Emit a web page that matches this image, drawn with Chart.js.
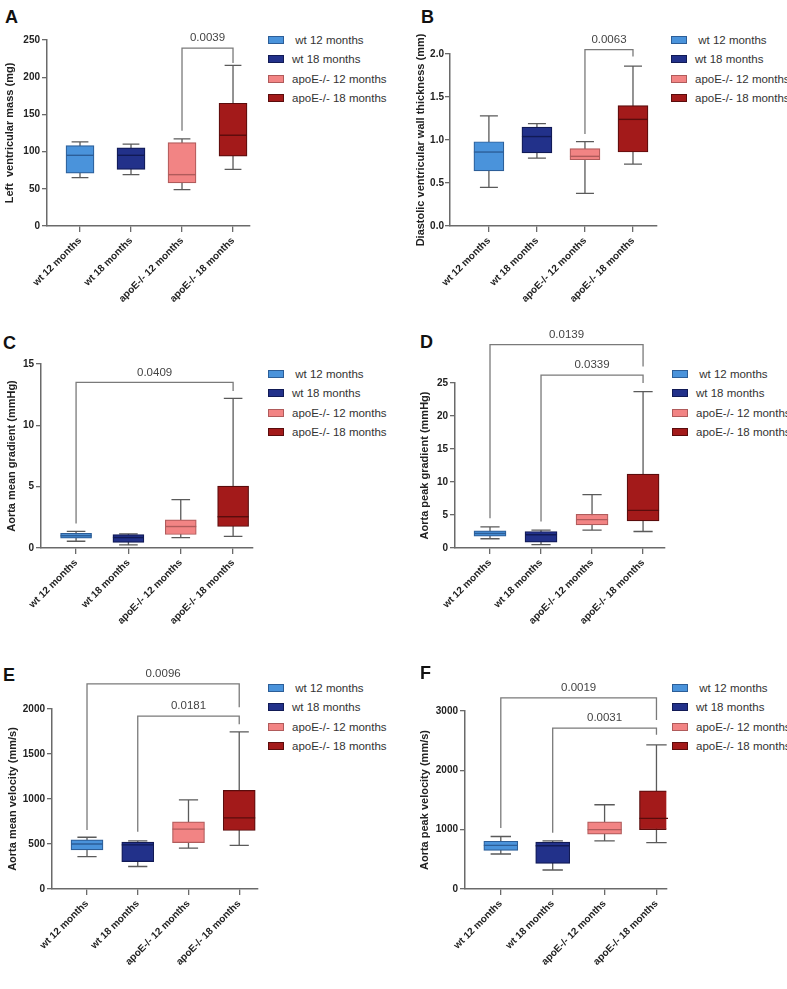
<!DOCTYPE html>
<html>
<head>
<meta charset="utf-8">
<script src="https://cdn.jsdelivr.net/npm/chart.js@4.4.1/dist/chart.umd.min.js"></script>
<style>
  body { margin: 0; background: #fff; width: 787px; height: 989px; position: relative; overflow: hidden;
         font-family: "Liberation Sans", Arial, sans-serif; }
  canvas { position: absolute; }
  .letter { position: absolute; font-weight: bold; font-size: 18px; color: #111; line-height: 1; }
  .legend { position: absolute; font-size: 11.5px; color: #333; }
  .legend .row { position: absolute; left: 0; white-space: pre; height: 14px; line-height: 14px; }
  .legend .sw { display: inline-block; box-sizing: border-box; width: 16px; height: 8px; border: 1px solid;
                vertical-align: middle; margin-right: 8px; position: relative; top: -1px; }
</style>
</head>
<body>
<script>
const categories = ['wt 12 months', 'wt 18 months', 'apoE-/- 12 months', 'apoE-/- 18 months'];
const legendLabels = [' wt 12 months', 'wt 18 months', 'apoE-/- 12 months', 'apoE-/- 18 months'];
const fillColors = ['#4a93db', '#22318a', '#f28484', '#a31a1a'];
const edgeColors = ['#2c5e98', '#111a55', '#b05b5b', '#5a0c0c'];

// A - left ventricular mass
const massMin = [65, 69, 49, 76];
const massQ1 = [71, 76, 58, 94];
const massMedian = [95, 95, 69, 122];
const massQ3 = [108, 105, 112, 165];
const massMax = [113, 110, 117, 216];
const massTicks = [0, 50, 100, 150, 200, 250];
const massBrackets = [{ from: 2, to: 3, left: 128, top: 239, right: 219, p: '0.0039' }];

// B - diastolic wall thickness
const wallMin = [0.45, 0.79, 0.38, 0.72];
const wallQ1 = [0.64, 0.85, 0.77, 0.86];
const wallMedian = [0.86, 1.04, 0.81, 1.24];
const wallQ3 = [0.98, 1.15, 0.90, 1.40];
const wallMax = [1.28, 1.19, 0.98, 1.86];
const wallTicks = [0, 0.5, 1.0, 1.5, 2.0];
const wallBrackets = [{ from: 2, to: 3, left: 1.07, top: 2.05, right: 1.97, p: '0.0063' }];

// C - aorta mean gradient
const meanGradMin = [0.55, 0.25, 0.85, 0.95];
const meanGradQ1 = [0.8, 0.45, 1.1, 1.75];
const meanGradMedian = [1.0, 0.85, 1.75, 2.55];
const meanGradQ3 = [1.2, 1.1, 2.3, 5.05];
const meanGradMax = [1.35, 1.15, 3.95, 12.2];
const meanGradTicks = [0, 5, 10, 15];
const meanGradBrackets = [{ from: 0, to: 3, left: 2.0, top: 13.5, right: 12.8, p: '0.0409' }];

// D - aorta peak gradient
const peakGradMin = [1.4, 0.5, 2.7, 2.5];
const peakGradQ1 = [1.8, 0.9, 3.5, 4.1];
const peakGradMedian = [2.2, 2.0, 4.3, 5.7];
const peakGradQ3 = [2.6, 2.5, 5.1, 11.2];
const peakGradMax = [3.2, 2.7, 8.1, 23.7];
const peakGradTicks = [0, 5, 10, 15, 20, 25];
const peakGradBrackets = [
  { from: 0, to: 3, left: 4.5, top: 30.8, right: 27.5, p: '0.0139' },
  { from: 1, to: 3, left: 4.0, top: 26.2, right: 25.0, p: '0.0339' }
];

// E - aorta mean velocity
const meanVelMin = [360, 250, 455, 485];
const meanVelQ1 = [435, 305, 515, 650];
const meanVelMedian = [500, 490, 665, 790];
const meanVelQ3 = [545, 520, 745, 1095];
const meanVelMax = [575, 535, 990, 1745];
const meanVelTicks = [0, 500, 1000, 1500, 2000];
const meanVelBrackets = [
  { from: 0, to: 3, left: 655, top: 2280, right: 2020, p: '0.0096' },
  { from: 1, to: 3, left: 635, top: 1920, right: 1830, p: '0.0181' }
];

// F - aorta peak velocity
const peakVelMin = [590, 320, 810, 780];
const peakVelQ1 = [650, 430, 925, 1000];
const peakVelMedian = [735, 730, 1000, 1190];
const peakVelQ3 = [805, 790, 1130, 1655];
const peakVelMax = [885, 810, 1420, 2430];
const peakVelTicks = [0, 1000, 2000, 3000];
const peakVelBrackets = [
  { from: 0, to: 3, left: 1030, top: 3220, right: 2850, p: '0.0019' },
  { from: 1, to: 3, left: 950, top: 2710, right: 2600, p: '0.0031' }
];

const panels = [
  { letter: 'A', lx: 5, ly: 8, title: 'Left  ventricular mass (mg)',
    min: massMin, q1: massQ1, med: massMedian, q3: massQ3, max: massMax, ticks: massTicks, brackets: massBrackets, dec: 0,
    cl: 3, ct: 0, cw: 255, ch: 330, axisX: 47, top: 40, bottom: 226, right: 250, xMin: -0.647, xMax: 3.333, bar: 28,
    legX: 268, legY: 40 },
  { letter: 'B', lx: 421, ly: 8, title: 'Diastolic ventricular wall thickness (mm)',
    min: wallMin, q1: wallQ1, med: wallMedian, q3: wallQ3, max: wallMax, ticks: wallTicks, brackets: wallBrackets, dec: 1,
    cl: 414, ct: 0, cw: 251, ch: 330, axisX: 450, top: 54, bottom: 226, right: 657, xMin: -0.81, xMax: 3.5, bar: 30,
    legX: 671, legY: 40, tickPad: 1 },
  { letter: 'C', lx: 3, ly: 334, title: 'Aorta mean gradient (mmHg)',
    min: meanGradMin, q1: meanGradQ1, med: meanGradMedian, q3: meanGradQ3, max: meanGradMax, ticks: meanGradTicks, brackets: meanGradBrackets, dec: 0,
    cl: 5, ct: 330, cw: 253, ch: 320, axisX: 41, top: 364, bottom: 548, right: 253, xMin: -0.67, xMax: 3.38, bar: 31,
    legX: 268, legY: 374 },
  { letter: 'D', lx: 420, ly: 333, title: 'Aorta peak gradient (mmHg)',
    min: peakGradMin, q1: peakGradQ1, med: peakGradMedian, q3: peakGradQ3, max: peakGradMax, ticks: peakGradTicks, brackets: peakGradBrackets, dec: 0,
    cl: 418, ct: 325, cw: 250, ch: 325, axisX: 455, top: 383, bottom: 548, right: 665, xMin: -0.686, xMax: 3.43, bar: 32,
    legX: 672, legY: 374 },
  { letter: 'E', lx: 3, ly: 666, title: 'Aorta mean velocity (mm/s)',
    min: meanVelMin, q1: meanVelQ1, med: meanVelMedian, q3: meanVelQ3, max: meanVelMax, ticks: meanVelTicks, brackets: meanVelBrackets, dec: 0,
    cl: 6, ct: 650, cw: 254, ch: 339, axisX: 52, top: 709, bottom: 889, right: 258, xMin: -0.69, xMax: 3.37, bar: 32,
    legX: 268, legY: 688 },
  { letter: 'F', lx: 420, ly: 664, title: 'Aorta peak velocity (mm/s)',
    min: peakVelMin, q1: peakVelQ1, med: peakVelMedian, q3: peakVelQ3, max: peakVelMax, ticks: peakVelTicks, brackets: peakVelBrackets, dec: 0,
    cl: 418, ct: 650, cw: 250, ch: 339, axisX: 465, top: 711, bottom: 889, right: 667, xMin: -0.69, xMax: 3.19, bar: 34,
    legX: 672, legY: 688 }
];

const AXIS = '#6a6a6a';
const FONT = '"Liberation Sans", Arial, sans-serif';

// whiskers, medians and p-value brackets, drawn through the chart's scales
function boxPlugin(pn) {
  return {
    id: 'boxExtras' + pn.letter,
    beforeDatasetsDraw(chart) {
      const { ctx, scales: { x, y } } = chart;
      const half = pn.bar * 0.3;
      ctx.save();
      ctx.strokeStyle = '#5a5a5a';
      ctx.lineWidth = 1.3;
      pn.min.forEach((lo, i) => {
        const cx = x.getPixelForValue(i);
        const yLo = y.getPixelForValue(lo), yHi = y.getPixelForValue(pn.max[i]);
        ctx.beginPath();
        ctx.moveTo(cx, yLo); ctx.lineTo(cx, yHi);
        ctx.moveTo(cx - half, yLo); ctx.lineTo(cx + half, yLo);
        ctx.moveTo(cx - half, yHi); ctx.lineTo(cx + half, yHi);
        ctx.stroke();
      });
      ctx.restore();
    },
    afterDatasetsDraw(chart) {
      const { ctx, scales: { x, y } } = chart;
      ctx.save();
      ctx.lineWidth = 1.4;
      pn.med.forEach((m, i) => {
        const cx = x.getPixelForValue(i);
        const my = y.getPixelForValue(m);
        ctx.strokeStyle = edgeColors[i];
        ctx.beginPath();
        ctx.moveTo(cx - pn.bar / 2, my); ctx.lineTo(cx + pn.bar / 2, my);
        ctx.stroke();
      });
      ctx.strokeStyle = '#7a7a7a';
      ctx.lineWidth = 1.3;
      ctx.fillStyle = '#444';
      ctx.font = '11.5px ' + FONT;
      ctx.textAlign = 'center';
      ctx.textBaseline = 'middle';
      pn.brackets.forEach(b => {
        const x1 = x.getPixelForValue(b.from), x2 = x.getPixelForValue(b.to);
        const yt = y.getPixelForValue(b.top);
        ctx.beginPath();
        ctx.moveTo(x1, y.getPixelForValue(b.left));
        ctx.lineTo(x1, yt);
        ctx.lineTo(x2, yt);
        ctx.lineTo(x2, y.getPixelForValue(b.right));
        ctx.stroke();
        ctx.fillText(b.p, (x1 + x2) / 2, yt - 10);
      });
      ctx.restore();
    }
  };
}

panels.forEach(pn => {
  const letter = document.createElement('div');
  letter.className = 'letter';
  letter.textContent = pn.letter;
  letter.style.left = pn.lx + 'px';
  letter.style.top = pn.ly + 'px';
  document.body.appendChild(letter);

  const legend = document.createElement('div');
  legend.className = 'legend';
  legend.style.left = pn.legX + 'px';
  legend.style.top = (pn.legY - 7) + 'px';
  legendLabels.forEach((lab, i) => {
    const row = document.createElement('div');
    row.className = 'row';
    row.style.top = (i * 19.3) + 'px';
    row.innerHTML = '<span class="sw" style="background:' + fillColors[i] + ';border-color:' + edgeColors[i] + '"></span>';
    row.appendChild(document.createTextNode(lab));
    legend.appendChild(row);
  });
  document.body.appendChild(legend);

  const canvas = document.createElement('canvas');
  canvas.width = pn.cw;
  canvas.height = pn.ch;
  canvas.style.left = pn.cl + 'px';
  canvas.style.top = pn.ct + 'px';
  document.body.appendChild(canvas);

  const yWidth = pn.axisX - pn.cl;
  const xHeight = pn.ct + pn.ch - pn.bottom;
  const yMax = pn.ticks[pn.ticks.length - 1];

  new Chart(canvas.getContext('2d'), {
    type: 'bar',
    data: {
      datasets: [{
        data: categories.map((c, i) => ({ x: i, y: [pn.q1[i], pn.q3[i]] })),
        backgroundColor: fillColors,
        borderColor: edgeColors,
        borderWidth: 1.2,
        borderSkipped: false,
        barThickness: pn.bar
      }]
    },
    options: {
      responsive: false,
      animation: false,
      devicePixelRatio: 1,
      layout: { padding: { top: pn.top - pn.ct, right: pn.cl + pn.cw - pn.right, left: 0, bottom: 0 } },
      plugins: { legend: { display: false }, tooltip: { enabled: false } },
      scales: {
        x: {
          type: 'linear',
          min: pn.xMin,
          max: pn.xMax,
          offset: false,
          afterBuildTicks: s => { s.ticks = categories.map((c, i) => ({ value: i })); },
          afterFit: s => { s.height = xHeight; },
          grid: { offset: false, drawOnChartArea: false, drawTicks: true, tickLength: 6, color: AXIS, lineWidth: 1.3 },
          border: { display: true, color: AXIS, width: 1.5 },
          ticks: {
            autoSkip: false,
            minRotation: 45,
            maxRotation: 45,
            color: '#222',
            font: { family: FONT, size: 10, weight: 'bold' },
            callback: v => categories[v]
          }
        },
        y: {
          min: 0,
          max: yMax,
          afterBuildTicks: s => { s.ticks = pn.ticks.map(v => ({ value: v })); },
          afterFit: s => { s.width = yWidth; },
          grid: { drawOnChartArea: false, drawTicks: true, tickLength: 5, color: AXIS, lineWidth: 1.3 },
          border: { display: true, color: AXIS, width: 1.5 },
          ticks: {
            padding: pn.tickPad !== undefined ? pn.tickPad : 2,
            color: '#222',
            font: { family: FONT, size: 10, weight: 'bold' },
            callback: v => v.toFixed(pn.dec)
          },
          title: {
            display: true,
            text: pn.title,
            padding: 0,
            color: '#222',
            font: { family: FONT, size: 11, weight: 'bold' }
          }
        }
      }
    },
    plugins: [boxPlugin(pn)]
  });
});
</script>
</body>
</html>
